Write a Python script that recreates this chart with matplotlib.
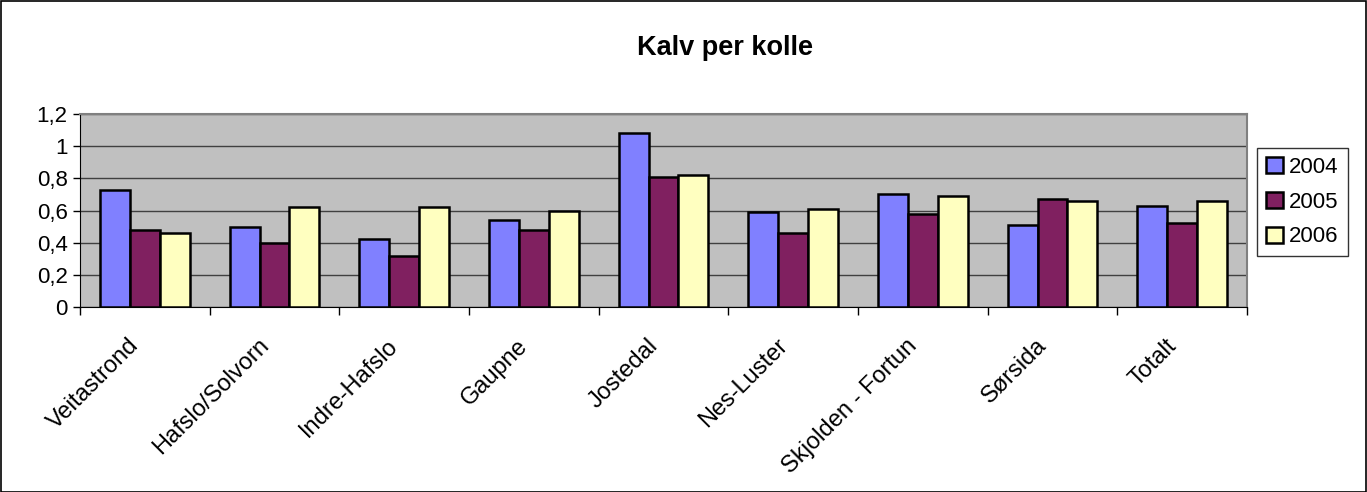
import matplotlib
matplotlib.use("Agg")
import matplotlib.pyplot as plt
import matplotlib.transforms as mtransforms
import numpy as np

categories = ["Veitastrond", "Hafslo/Solvorn", "Indre-Hafslo", "Gaupne", "Jostedal",
              "Nes-Luster", "Skjolden - Fortun", "Sørsida", "Totalt"]
years = ["2004", "2005", "2006"]
v2004 = [0.73, 0.50, 0.42, 0.54, 1.08, 0.59, 0.70, 0.51, 0.63]
v2005 = [0.48, 0.40, 0.32, 0.48, 0.81, 0.46, 0.58, 0.67, 0.52]
v2006 = [0.46, 0.62, 0.62, 0.60, 0.82, 0.61, 0.69, 0.66, 0.66]
yticks = [0, 0.2, 0.4, 0.6, 0.8, 1.0, 1.2]
ytick_labels = ["0", "0,2", "0,4", "0,6", "0,8", "1", "1,2"]
colors = ["#8080FF", "#802060", "#FFFFC0"]

plt.rcParams['font.family'] = ['Liberation Sans', 'DejaVu Sans']

W, H = 1367, 492
fig = plt.figure(figsize=(W / 100, H / 100), dpi=100)
ax = fig.add_axes([80 / W, 1 - 307 / H, (1247 - 80) / W, (307 - 114) / H])
ax.set_facecolor("#C0C0C0")

x = np.arange(len(categories))
bw = 0.23
series = [v2004, v2005, v2006]
for i, (vals, c, lab) in enumerate(zip(series, colors, years)):
    ax.bar(x + (i - 1) * bw, vals, width=bw, color=c, edgecolor="black",
           linewidth=1.8, label=lab, zorder=3)

ax.set_xlim(-0.5, len(categories) - 0.5)
ax.set_ylim(0, 1.2)
ax.set_yticks(yticks)
ax.set_yticklabels(ytick_labels, fontsize=16)
ax.yaxis.grid(True, color="#404040", linewidth=1.0, zorder=1)
ax.set_axisbelow(True)
ax.tick_params(axis='y', length=5, width=1, color="black", pad=4)

ax.set_xticks(x)
ax.set_xticklabels(categories, fontsize=17, rotation=45, ha='right', va='top',
                   rotation_mode='anchor')
ax.tick_params(axis='x', which='major', length=0, pad=12)
off = mtransforms.ScaledTranslation(-17 / 100, -11 / 100, fig.dpi_scale_trans)
for lbl in ax.get_xticklabels():
    lbl.set_transform(lbl.get_transform() + off)
ax.set_xticks(np.arange(-0.5, len(categories)), minor=True)
ax.tick_params(axis='x', which='minor', length=6, width=1, color="black")

for s in ["top", "right"]:
    ax.spines[s].set_color("#808080")
    ax.spines[s].set_linewidth(1.5)
ax.spines["left"].set_color("black")
ax.spines["bottom"].set_color("black")

fig.text(725 / W, 1 - 48 / H, "Kalv per kolle", fontsize=19.5, fontweight='bold',
         ha='center', va='center')

leg = fig.legend(loc='upper left', bbox_to_anchor=(1257 / W, 1 - 148 / H),
                 fontsize=16, frameon=True, fancybox=False, handlelength=0.75,
                 handleheight=0.75, handletextpad=0.3, labelspacing=0.62,
                 borderpad=0.4, borderaxespad=0)
leg.get_frame().set_edgecolor("black")
leg.get_frame().set_linewidth(1.0)
for p in leg.get_patches():
    p.set_linewidth(1.8)

# outer border
fig.patches.append(plt.Rectangle((0.5 / W, 0.5 / H), 1 - 1.5 / W, 1 - 1.5 / H,
                                 transform=fig.transFigure, fill=False,
                                 edgecolor="black", linewidth=1.2))

fig.savefig("out.png", dpi=100)
